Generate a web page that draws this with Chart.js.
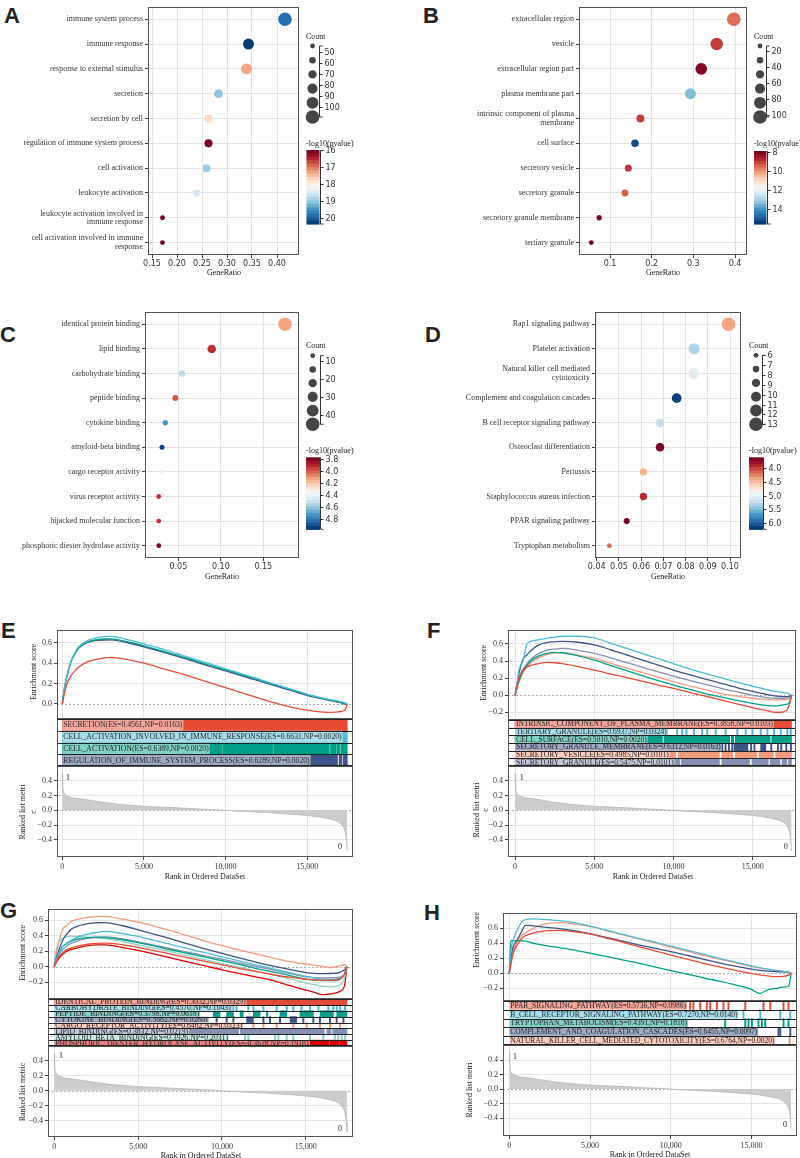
<!DOCTYPE html>
<html lang="en">
<head>
<meta charset="UTF-8">
<title>GO / KEGG dot plots and GSEA plots</title>
<script src="https://cdn.jsdelivr.net/npm/chart.js"></script>
<style>
  body { margin: 0; background: #fff; }
  #fig { position: relative; width: 800px; height: 1158px; overflow: hidden; background: #fff; }
  #fig canvas { position: absolute; }
  .lab { position: absolute; font: bold 22px "Liberation Sans", Arial, sans-serif; color: #222; line-height: 22px; }
</style>
</head>
<body>
<div id="fig">
  <div class="lab" style="left:4px;top:5px">A</div>
  <div class="lab" style="left:423px;top:5px">B</div>
  <div class="lab" style="left:0px;top:324px">C</div>
  <div class="lab" style="left:425px;top:324px">D</div>
  <div class="lab" style="left:1px;top:620px">E</div>
  <div class="lab" style="left:427px;top:620px">F</div>
  <div class="lab" style="left:0px;top:900px">G</div>
  <div class="lab" style="left:424px;top:902px">H</div>
</div>
<script>
// ---------- dot plots (A-D) ----------
const termsA = ['immune system process', 'immune response', 'response to external stimulus', 'secretion',
  'secretion by cell', 'regulation of immune system process', 'cell activation', 'leukocyte activation',
  'leukocyte activation involved in\nimmune response', 'cell activation involved in immune\nresponse'];
const ratioA = [0.416, 0.343, 0.339, 0.283, 0.263, 0.263, 0.259, 0.239, 0.171, 0.171];
const countA = [109, 90, 89, 74, 69, 69, 68, 63, 45, 45];
const logpA = [19.83, 20.26, 17.3, 19.05, 17.74, 16.09, 18.95, 18.6, 16.05, 16.05];

const termsB = ['extracellular region', 'vesicle', 'extracellular region part', 'plasma membrane part',
  'intrinsic component of plasma\nmembrane', 'cell surface', 'secretory vesicle', 'secretory granule',
  'secretory granule membrane', 'tertiary granule'];
const ratioB = [0.397, 0.356, 0.319, 0.293, 0.173, 0.160, 0.144, 0.136, 0.074, 0.055];
const countB = [103, 92, 83, 76, 45, 41, 37, 35, 19, 14];
const logpB = [9.6, 9.07, 8.2, 13.4, 9.07, 15.2, 9.0, 9.46, 8.16, 8.0];

const termsC = ['identical protein binding', 'lipid binding', 'carbohydrate binding', 'peptide binding',
  'cytokine binding', 'amyloid-beta binding', 'cargo receptor activity', 'virus receptor activity',
  'hijacked molecular function', 'phosphoric diester hydrolase activity'];
const ratioC = [0.1755, 0.0893, 0.054, 0.0465, 0.0347, 0.0308, 0.0308, 0.027, 0.027, 0.027];
const countC = [45, 23, 14, 12, 9, 8, 8, 7, 7, 7];
const logpC = [4.13, 3.93, 4.53, 3.99, 4.73, 4.93, 4.39, 3.93, 3.93, 3.79];

const termsD = ['Rap1 signaling pathway', 'Platelet activation', 'Natural killer cell mediated\ncytotoxicity',
  'Complement and coagulation cascades', 'B cell receptor signaling pathway', 'Osteoclast differentiation',
  'Pertussis', 'Staphylococcus aureus infection', 'PPAR signaling pathway', 'Tryptophan metabolism'];
const ratioD = [0.0993, 0.0838, 0.0838, 0.076, 0.0685, 0.0685, 0.061, 0.061, 0.0535, 0.0457];
const countD = [13, 11, 11, 10, 9, 9, 8, 8, 7, 6];
const logpD = [4.39, 5.31, 5.07, 6.15, 5.23, 3.65, 4.47, 3.92, 3.65, 4.18];

const xTicksA = [0.15, 0.20, 0.25, 0.30, 0.35, 0.40];
const xTicksB = [0.1, 0.2, 0.3, 0.4];
const xTicksC = [0.05, 0.10, 0.15];
const xTicksD = [0.04, 0.05, 0.06, 0.07, 0.08, 0.09, 0.10];
const countTicksA = [50, 60, 70, 80, 90, 100];
const countTicksB = [20, 40, 60, 80, 100];
const countTicksC = [10, 20, 30, 40];
const countTicksD = [6, 7, 8, 9, 10, 11, 12, 13];
const cbTicksA = [16, 17, 18, 19, 20];
const cbTicksB = [8, 10, 12, 14];
const cbTicksC = [3.8, 4.0, 4.2, 4.4, 4.6, 4.8];
const cbTicksD = [4.0, 4.5, 5.0, 5.5, 6.0];

// ---------- GSEA (E-H) ----------
const rankGrid = [0, 100, 250, 500, 750, 1000, 1500, 2000, 2500, 3000, 4000, 5000, 6000, 7000, 8000, 9000,
  10000, 11000, 12000, 13000, 14000, 15000, 15500, 16000, 16500, 17000, 17300, 17450];
const rankTicks = [0, 5000, 10000, 15000];
const metricRank = [0, 20, 60, 120, 270, 600, 1300, 2300, 3300, 4350, 5400, 6400, 7400, 8400, 9400, 10450,
  11500, 12500, 13500, 14550, 15100, 15570, 16100, 16600, 16900, 17100, 17250, 17350, 17410, 17450];
const metricVal = [0.5, 0.34, 0.26, 0.23, 0.195, 0.17, 0.15, 0.115, 0.085, 0.065, 0.05, 0.04, 0.03, 0.018, 0.008,
  -0.008, -0.02, -0.031, -0.045, -0.062, -0.072, -0.085, -0.105, -0.13, -0.155, -0.19, -0.24, -0.31, -0.42, -0.55];
const metricTicks = [-0.4, -0.2, 0, 0.2, 0.4];

const setsE = ['SECRETION', 'CELL_ACTIVATION_INVOLVED_IN_IMMUNE_RESPONSE', 'CELL_ACTIVATION', 'REGULATION_OF_IMMUNE_SYSTEM_PROCESS'];
const esLabE = ['0.4561', '0.6631', '0.6389', '0.6289'];
const npLabE = ['0.0163', '0.0020', '0.0020', '0.0020'];
const curvesE = [
  [0, 0.08, 0.18, 0.27, 0.32, 0.36, 0.41, 0.435, 0.45, 0.456, 0.435, 0.40, 0.355, 0.31, 0.26, 0.21, 0.16, 0.11, 0.06, 0.01, -0.03, -0.06, -0.072, -0.08, -0.082, -0.075, -0.06, 0],
  [0, 0.12, 0.25, 0.40, 0.50, 0.56, 0.62, 0.645, 0.66, 0.663, 0.63, 0.59, 0.545, 0.495, 0.445, 0.395, 0.345, 0.295, 0.245, 0.195, 0.145, 0.095, 0.075, 0.055, 0.04, 0.025, 0.01, 0],
  [0, 0.12, 0.25, 0.40, 0.49, 0.55, 0.605, 0.628, 0.637, 0.639, 0.61, 0.57, 0.525, 0.478, 0.43, 0.382, 0.334, 0.286, 0.238, 0.19, 0.143, 0.093, 0.072, 0.053, 0.035, 0.02, 0.005, 0],
  [0, 0.12, 0.25, 0.40, 0.49, 0.545, 0.60, 0.62, 0.627, 0.629, 0.60, 0.56, 0.515, 0.468, 0.42, 0.372, 0.324, 0.276, 0.228, 0.18, 0.133, 0.085, 0.065, 0.047, 0.03, 0.015, 0.0, 0]
];
const hitsE = [
  [[0, 17450]],
  [[0, 16900], [17150, 17450]],
  [[0, 9800], [9850, 12880], [12940, 16350], [16420, 16750], [16800, 16980], [17050, 17450]],
  [[0, 16850], [16950, 17120], [17200, 17450]]
];

const setsF = ['INTRINSIC_COMPONENT_OF_PLASMA_MEMBRANE', 'TERTIARY_GRANULE', 'CELL_SURFACE',
  'SECRETORY_GRANULE_MEMBRANE', 'SECRETORY_VESICLE', 'SECRETORY_GRANULE'];
const esLabF = ['0.3858', '0.6937', '0.5010', '0.6312', '0.4985', '0.5475'];
const npLabF = ['0.0103', '0.0324', '0.0020', '0.0163', '0.0101', '0.0101'];
const curvesF = [
  [0, 0.1, 0.2, 0.3, 0.33, 0.35, 0.37, 0.385, 0.38, 0.37, 0.335, 0.295, 0.25, 0.21, 0.165, 0.12, 0.08, 0.035, -0.01, -0.055, -0.1, -0.145, -0.165, -0.185, -0.2, -0.19, -0.12, 0],
  [0, 0.1, 0.3, 0.4, 0.6, 0.63, 0.65, 0.665, 0.68, 0.69, 0.69, 0.67, 0.61, 0.55, 0.49, 0.43, 0.37, 0.31, 0.255, 0.205, 0.155, 0.105, 0.085, 0.06, 0.045, 0.03, 0.015, 0],
  [0, 0.07, 0.17, 0.28, 0.35, 0.40, 0.46, 0.49, 0.501, 0.497, 0.46, 0.41, 0.35, 0.29, 0.23, 0.175, 0.12, 0.07, 0.02, -0.02, -0.06, -0.095, -0.11, -0.122, -0.125, -0.11, -0.09, 0],
  [0, 0.08, 0.25, 0.42, 0.47, 0.52, 0.59, 0.615, 0.625, 0.631, 0.62, 0.59, 0.535, 0.475, 0.415, 0.355, 0.295, 0.24, 0.19, 0.14, 0.09, 0.045, 0.025, 0.005, -0.01, -0.015, -0.012, 0],
  [0, 0.06, 0.15, 0.26, 0.33, 0.38, 0.44, 0.475, 0.492, 0.4985, 0.47, 0.43, 0.375, 0.32, 0.267, 0.213, 0.16, 0.11, 0.065, 0.02, -0.01, -0.035, -0.045, -0.052, -0.055, -0.05, -0.04, 0],
  [0, 0.07, 0.18, 0.3, 0.37, 0.42, 0.49, 0.525, 0.54, 0.5475, 0.525, 0.49, 0.44, 0.385, 0.33, 0.277, 0.225, 0.175, 0.128, 0.082, 0.04, 0.0, -0.015, -0.03, -0.035, -0.035, -0.03, 0]
];
const hitsF = [
  [[0, 17450]],
  [9600, 10230, 10550, 10820, 11290, 11810, 12130, 12660, 13290, 14030, 14560, 14980, 15510, 15930, 16350, 16770, 17190, 17400],
  [[0, 9300], [9400, 13550], [13650, 13800], [13900, 16100], [16200, 17450]],
  [13080, 13290, 13500, 13710, [13820, 14700], 14900, 15110, [15500, 15830], 16170, 16590, 16800, 17120, 17410],
  [[0, 10150], [10300, 12900], [13050, 13750], [13900, 15250], [15400, 16300], [16450, 17450]],
  [[0, 10400], [10500, 12900], [13050, 14800], [14950, 15980], [16100, 16720], [16850, 17150], [17250, 17450]]
];

const setsG = ['IDENTICAL_PROTEIN_BINDING', 'CARBOHYDRATE_BINDING', 'PEPTIDE_BINDING', 'CYTOKINE_BINDING',
  'CARGO_RECEPTOR_ACTIVITY', 'LIPID_BINDING', 'AMYLOID_BETA_BINDING', 'PHOSPHORIC_DIESTER_HYDROLASE_ACTIVITY'];
const esLabG = ['0.3032', '0.4570', '0.3798', '0.5682', '0.6462', '0.3832', '0.3926', '-0.3628'];
const npLabG = ['0.0329', '0.1043', '0.0618', '0.0280', '0.0323', '0.0219', '0.2031', '0.1918'];
const curvesG = [
  [0, 0.06, 0.12, 0.18, 0.22, 0.24, 0.27, 0.29, 0.3, 0.303, 0.285, 0.25, 0.205, 0.16, 0.115, 0.07, 0.025, -0.02, -0.06, -0.1, -0.135, -0.16, -0.168, -0.175, -0.175, -0.16, -0.1, 0],
  [0, 0.08, 0.16, 0.26, 0.3, 0.34, 0.39, 0.42, 0.44, 0.455, 0.43, 0.39, 0.335, 0.285, 0.23, 0.18, 0.128, 0.075, 0.025, -0.025, -0.075, -0.125, -0.145, -0.16, -0.165, -0.15, -0.09, 0],
  [0, 0.08, 0.17, 0.26, 0.3, 0.33, 0.36, 0.375, 0.38, 0.375, 0.35, 0.31, 0.265, 0.215, 0.17, 0.122, 0.077, 0.03, -0.02, -0.065, -0.11, -0.16, -0.172, -0.18, -0.18, -0.165, -0.1, 0],
  [0, 0.1, 0.2, 0.34, 0.42, 0.48, 0.53, 0.555, 0.565, 0.568, 0.53, 0.475, 0.415, 0.355, 0.29, 0.23, 0.17, 0.115, 0.06, 0.01, -0.035, -0.075, -0.085, -0.088, -0.087, -0.075, -0.04, 0],
  [0, 0.15, 0.3, 0.48, 0.53, 0.58, 0.615, 0.635, 0.645, 0.646, 0.615, 0.575, 0.52, 0.46, 0.395, 0.33, 0.27, 0.215, 0.165, 0.115, 0.07, 0.035, 0.02, 0.005, -0.01, 0.01, 0.025, 0],
  [0, 0.07, 0.14, 0.22, 0.27, 0.3, 0.34, 0.365, 0.377, 0.383, 0.36, 0.32, 0.275, 0.23, 0.185, 0.14, 0.097, 0.05, 0.005, -0.04, -0.085, -0.13, -0.14, -0.145, -0.145, -0.135, -0.09, 0],
  [0, 0.2, 0.3, 0.37, 0.385, 0.392, 0.39, 0.38, 0.37, 0.36, 0.325, 0.28, 0.235, 0.19, 0.14, 0.09, 0.043, -0.005, -0.055, -0.1, -0.155, -0.21, -0.23, -0.25, -0.258, -0.24, -0.15, 0],
  [0, 0.05, 0.1, 0.16, 0.2, 0.22, 0.25, 0.27, 0.28, 0.28, 0.25, 0.21, 0.16, 0.11, 0.06, 0.01, -0.04, -0.085, -0.13, -0.175, -0.24, -0.3, -0.33, -0.36, -0.35, -0.32, -0.25, 0]
];
const hitsG = [
  [[0, 17450]],
  [10680, 10870, 11570, 11870, 12470, 13260, 13860, 14250, 14750, 15250, 15750, 16340, 16640, 16840, 17040, 17340],
  [[9480, 9880], [10280, 10680], [11080, 11270], [11870, 12270], 12690, [13460, 13860], [14650, 15450], [15850, 16640], [16840, 17450]],
  [9680, 10280, 10680, [11470, 11870], 12470, 12860, 13460, [14060, 14450], 14850, 15450, 15840, 16440, 16840, 17240],
  [11870, 12470, 13260, 14250, 15050, 15840, 16440, 17040],
  [[0, 11000], [11100, 16100], [16250, 16500], [16600, 17450]],
  [11370, 11570, 13160, 13360, 13860, 14250, 15250, 16040, 16740, 16940, 17140, 17340],
  [[15250, 16400], [16460, 17000], [17050, 17450]]
];

const setsH = ['PPAR_SIGNALING_PATHWAY', 'B_CELL_RECEPTOR_SIGNALING_PATHWAY', 'TRYPTOPHAN_METABOLISM',
  'COMPLEMENT_AND_COAGULATION_CASCADES', 'NATURAL_KILLER_CELL_MEDIATED_CYTOTOXICITY'];
const esLabH = ['0.5736', '0.7270', '0.4391', '0.6455', '0.6764'];
const npLabH = ['0.0986', '0.0140', '0.1818', '0.0097', '0.0020'];
const curvesH = [
  [0, 0.12, 0.27, 0.38, 0.46, 0.5, 0.54, 0.56, 0.57, 0.5736, 0.555, 0.525, 0.47, 0.415, 0.355, 0.3, 0.244, 0.19, 0.135, 0.085, 0.04, -0.005, -0.02, -0.035, -0.044, -0.04, -0.025, 0],
  [0, 0.3, 0.45, 0.58, 0.68, 0.715, 0.727, 0.72, 0.712, 0.705, 0.675, 0.63, 0.575, 0.52, 0.465, 0.415, 0.364, 0.31, 0.255, 0.2, 0.15, 0.098, 0.075, 0.055, 0.04, 0.025, 0.012, 0],
  [0, 0.436, 0.436, 0.435, 0.432, 0.43, 0.40, 0.38, 0.36, 0.345, 0.31, 0.27, 0.225, 0.18, 0.135, 0.085, 0.035, -0.01, -0.06, -0.105, -0.155, -0.215, -0.27, -0.22, -0.2, -0.185, -0.17, 0],
  [0, 0.2, 0.36, 0.45, 0.55, 0.64, 0.632, 0.62, 0.61, 0.6, 0.57, 0.53, 0.48, 0.43, 0.38, 0.335, 0.29, 0.24, 0.19, 0.14, 0.095, 0.055, 0.04, 0.028, 0.022, 0.02, 0.015, 0],
  [0, 0.15, 0.3, 0.42, 0.5, 0.54, 0.6, 0.645, 0.668, 0.676, 0.66, 0.625, 0.57, 0.515, 0.46, 0.405, 0.35, 0.295, 0.24, 0.19, 0.14, 0.09, 0.07, 0.052, 0.04, 0.025, 0.012, 0]
];
const hitsH = [
  [11200, 11400, 11820, 12230, 12440, 12850, 13260, 13570, 14610, 15740, 16160, 16980, 17290],
  [14500, 15540, 16780, 17400],
  [13370, 14610, 14810, 15020, 15430, 15640, 15850, 16980, 17290],
  [16670, 16780, 17400],
  [17360]
];

// ---------- helpers ----------
const SERIF = '"Liberation Serif", "Times New Roman", serif';
const SANS = '"DejaVu Sans", sans-serif';
const GRID = '#e4e4e4';
const TICKC = '#444';
const npg = ['#E64B35', '#4DBBD5', '#00A087', '#3C5488', '#F39B7F', '#8491B4', '#91D1C2', '#DC0000'];
const RDBU = ['#67001f', '#b2182b', '#d6604d', '#f4a582', '#fddbc7', '#f7f7f7', '#d1e5f0', '#92c5de', '#4393c3', '#2166ac', '#053061'];
const fig = document.getElementById('fig');

function hexRgb(h) { const n = parseInt(h.slice(1), 16); return [n >> 16 & 255, n >> 8 & 255, n & 255]; }
function light(h) { return 'rgb(' + hexRgb(h).map(v => Math.round(v + (255 - v) * 0.5)).join(',') + ')'; }
function rdbu(t) {
  t = Math.max(0, Math.min(1, t)) * (RDBU.length - 1);
  const i = Math.min(Math.floor(t), RDBU.length - 2), f = t - i;
  const a = hexRgb(RDBU[i]), b = hexRgb(RDBU[i + 1]);
  return 'rgb(' + a.map((v, k) => Math.round(v + (b[k] - v) * f)).join(',') + ')';
}
const fmt1 = v => (v < 0 ? '\u2212' : '') + Math.abs(v).toFixed(1);
function seg(ctx, x1, y1, x2, y2) { ctx.beginPath(); ctx.moveTo(x1, y1); ctx.lineTo(x2, y2); ctx.stroke(); }

function addCanvas(cv) {
  const c = document.createElement('canvas');
  c.width = cv.w; c.height = cv.h;
  c.style.left = cv.x + 'px'; c.style.top = cv.y + 'px';
  c.style.width = cv.w + 'px'; c.style.height = cv.h + 'px';
  fig.appendChild(c);
  return c;
}
// fixed axis sizes so plot areas land where the figure has them
const fitW = w => s => { s.width = w; s.paddingTop = s.paddingBottom = s.paddingLeft = s.paddingRight = 0; };
const fitH = h => s => { s.height = h; s.paddingTop = s.paddingBottom = s.paddingLeft = s.paddingRight = 0; };

function base(cv, a) {
  return {
    responsive: false, animation: false, events: [], devicePixelRatio: 1,
    layout: { padding: { left: 0, top: a.t - cv.y, right: cv.x + cv.w - a.r, bottom: 0 } },
    plugins: { legend: { display: false }, tooltip: { enabled: false } }
  };
}

// free text in page coordinates
function notes(cv, items) {
  return { id: 'notes', afterDraw(chart) {
    const ctx = chart.ctx;
    items.forEach(it => {
      ctx.save();
      ctx.font = it.font || `8px ${SERIF}`;
      ctx.fillStyle = '#222';
      ctx.textAlign = it.align || 'center';
      ctx.textBaseline = 'middle';
      ctx.translate(it.x - cv.x, it.y - cv.y);
      if (it.rot) ctx.rotate(-Math.PI / 2);
      ctx.fillText(it.t, 0, 0);
      ctx.restore();
    });
  }};
}
const framePlugin = color => ({ id: 'frame', afterDatasetsDraw(chart) {
  const a = chart.chartArea, ctx = chart.ctx;
  ctx.save(); ctx.strokeStyle = color; ctx.lineWidth = 1;
  ctx.strokeRect(Math.round(a.left) + 0.5, Math.round(a.top) + 0.5, Math.round(a.right - a.left) - 1, Math.round(a.bottom - a.top) - 1);
  ctx.restore();
}});
const zeroLine = { id: 'zero', beforeDatasetsDraw(chart) {
  const a = chart.chartArea, ctx = chart.ctx, y = Math.round(chart.scales.y.getPixelForValue(0)) + 0.5;
  ctx.save(); ctx.strokeStyle = '#999'; ctx.lineWidth = 0.8; ctx.setLineDash([2, 2]);
  seg(ctx, a.left, y, a.right, y); ctx.restore();
}};

// size + colour legends of a dot plot
function dotLegend(o, rad) {
  return { id: 'dotLegend', afterDraw(chart) {
    const ctx = chart.ctx, ox = o.cv.x, oy = o.cv.y, L = o.leg, C = o.cb;
    ctx.save();
    ctx.textBaseline = 'middle'; ctx.textAlign = 'left';
    ctx.fillStyle = '#222'; ctx.font = `8px ${SERIF}`;
    ctx.fillText('Count', L.tx - ox, L.ty - oy);
    const yOf = n => L.y0 + (n - o.cLo) / (o.cHi - o.cLo) * (L.y1 - L.y0) - oy;
    ctx.fillStyle = '#454545';
    for (let k = 0; k < 6; k++) {
      const n = o.cLo + k * (o.cHi - o.cLo) / 5;
      ctx.beginPath(); ctx.arc(L.cx - ox, yOf(n), rad(n), 0, 2 * Math.PI); ctx.fill();
    }
    const bx = Math.round(L.bx - ox) + 0.5;
    ctx.strokeStyle = '#333'; ctx.lineWidth = 1;
    seg(ctx, bx, L.y0 - oy, bx, L.y1 - oy);
    seg(ctx, bx, L.y0 - oy, bx + 3, L.y0 - oy);
    seg(ctx, bx, L.y1 - oy, bx + 3, L.y1 - oy);
    ctx.font = `8px ${SANS}`; ctx.fillStyle = '#333';
    o.cTicks.forEach(v => {
      const y = Math.round(yOf(v)) + 0.5;
      seg(ctx, bx, y, bx + 3, y);
      ctx.fillText(String(v), bx + 5, y);
    });
    // colour bar
    ctx.font = `8px ${SERIF}`; ctx.fillStyle = '#222';
    ctx.fillText('-log10(pvalue)', C.tx - ox, C.ty - oy);
    const N = 22, hh = (C.y1 - C.y0) / N;
    for (let k = 0; k < N; k++) {
      ctx.fillStyle = rdbu((k + 0.5) / N);
      ctx.fillRect(C.x - ox, C.y0 - oy + k * hh, C.w, hh + 0.6);
    }
    const rx = Math.round(C.x + C.w - ox) + 0.5;
    ctx.strokeStyle = '#333';
    seg(ctx, rx, C.y0 - oy, rx, C.y1 - oy);
    seg(ctx, rx, C.y1 - oy, rx + 3, C.y1 - oy);
    ctx.font = `8px ${SANS}`; ctx.fillStyle = '#333';
    o.vTicks.forEach(v => {
      const y = Math.round(C.y0 + (v - o.vTop) / (o.vBot - o.vTop) * (C.y1 - C.y0) - oy) + 0.5;
      seg(ctx, rx, y, rx + 3, y);
      ctx.fillText(v.toFixed(o.vDec), rx + 5, y);
    });
    ctx.restore();
  }};
}

function dotPlot(o) {
  const cv = o.cv, a = o.area;
  const rad = n => 2.4 + 4.4 * (n - o.cLo) / (o.cHi - o.cLo);
  const col = v => rdbu((v - o.vTop) / (o.vBot - o.vTop));
  const opts = base(cv, a);
  opts.scales = {
    x: { type: 'linear', min: o.xMin, max: o.xMax, afterFit: fitH(cv.y + cv.h - a.b),
      afterBuildTicks: s => { s.ticks = o.xTicks.map(v => ({ value: v })); },
      ticks: { font: { family: SANS, size: 8 }, color: '#333', padding: 1, maxRotation: 0, autoSkip: false, callback: v => v.toFixed(o.dec) },
      grid: { color: GRID, tickColor: TICKC, tickLength: 3 }, border: { display: false } },
    y: { type: 'category', labels: o.terms, offset: true, afterFit: fitW(a.l - cv.x),
      ticks: { font: { family: SERIF, size: 8, lineHeight: 1.05 }, color: '#333', padding: 2, autoSkip: false,
        callback: (v, i) => o.terms[i].split('\n') },
      grid: { color: GRID, tickColor: TICKC, tickLength: 3 }, border: { display: false } }
  };
  new Chart(addCanvas(cv), {
    type: 'bubble',
    data: { datasets: [{
      data: o.terms.map((t, i) => ({ x: o.ratio[i], y: t, r: rad(o.count[i]) })),
      backgroundColor: o.logp.map(col), borderWidth: 0
    }] },
    options: opts,
    plugins: [framePlugin('#555'), dotLegend(o, rad), notes(cv, [{ t: 'GeneRatio', x: o.titleX, y: o.titleY }])]
  });
}

function gsea(p) {
  const cvx = p.cvx, w = p.cvw, n = p.sets.length, cols = npg.slice(0, n);
  const yTicks = { font: { family: SERIF, size: 8 }, color: '#333', padding: 2, autoSkip: false, callback: fmt1 };
  const yGrid = { color: c => (c.tick && c.tick.value === 0) ? 'rgba(0,0,0,0)' : GRID, tickColor: TICKC, tickLength: 3 };
  const xBase = { type: 'linear', min: p.xMin, max: p.xMax, afterBuildTicks: s => { s.ticks = rankTicks.map(v => ({ value: v })); } };

  // running enrichment score
  const cv1 = { x: cvx, y: p.es.t - 8, w, h: p.es.b - p.es.t + 8 };
  const a1 = { l: p.l, r: p.r, t: p.es.t, b: p.es.b };
  const o1 = base(cv1, a1);
  o1.scales = {
    x: Object.assign({}, xBase, { afterFit: fitH(0), ticks: { display: false }, grid: { color: GRID, drawTicks: false }, border: { display: false } }),
    y: { min: p.es.yMin, max: p.es.yMax, afterFit: fitW(p.l - cvx),
      afterBuildTicks: s => { s.ticks = p.es.ticks.map(v => ({ value: v })); },
      ticks: yTicks, grid: yGrid, border: { display: false } }
  };
  new Chart(addCanvas(cv1), {
    type: 'line',
    data: { datasets: p.curves.map((ys, k) => ({
      data: ys.map((v, i) => ({ x: rankGrid[i], y: v })),
      borderColor: cols[k], borderWidth: 1.3, pointRadius: 0, fill: false, cubicInterpolationMode: 'monotone'
    })) },
    options: o1,
    plugins: [zeroLine, framePlugin('#555'), notes(cv1, [{ t: 'Enrichment score', x: p.esTitle[0], y: p.esTitle[1], rot: true }])]
  });

  // gene-set hit strips
  const cv2 = { x: cvx, y: p.st.t, w, h: p.st.b - p.st.t };
  const a2 = { l: p.l, r: p.r, t: p.st.t, b: p.st.b };
  const o2 = base(cv2, a2);
  o2.indexAxis = 'y';
  o2.scales = {
    x: Object.assign({}, xBase, { afterFit: fitH(0), ticks: { display: false }, grid: { display: false }, border: { display: false } }),
    y: { type: 'category', labels: p.sets, offset: true, afterFit: fitW(p.l - cvx), ticks: { display: false }, grid: { display: false }, border: { display: false } }
  };
  const stripDeco = { id: 'strip', afterDatasetsDraw(chart) {
    const ctx = chart.ctx, a = chart.chartArea, x0 = chart.scales.x.getPixelForValue(0);
    const rh = (a.bottom - a.top) / n;
    ctx.save();
    ctx.font = `${p.st.font}px ${SERIF}`;
    p.sets.forEach((s, k) => {
      const txt = `${s}(ES=${p.esLab[k]},NP=${p.npLab[k]})`;
      const y0 = a.top + k * rh, tw = ctx.measureText(txt).width;
      ctx.fillStyle = light(cols[k]);
      ctx.fillRect(x0, y0, tw + 2, rh);
      ctx.save();
      ctx.beginPath(); ctx.rect(a.left, y0 + 0.5, a.right - a.left, rh - 0.5); ctx.clip();
      ctx.fillStyle = '#262626'; ctx.textAlign = 'left'; ctx.textBaseline = 'middle';
      ctx.fillText(txt, x0 + 1, y0 + rh / 2 + 0.5);
      ctx.restore();
    });
    ctx.strokeStyle = '#222'; ctx.lineWidth = 1;
    for (let k = 0; k <= n; k++) {
      const y = Math.min(Math.round(a.top + k * rh) + 0.5, a.bottom - 0.5);
      seg(ctx, a.left, y, a.right, y);
    }
    ctx.strokeStyle = '#555';
    seg(ctx, Math.round(a.left) + 0.5, a.top, Math.round(a.left) + 0.5, a.bottom);
    seg(ctx, Math.round(a.right) - 0.5, a.top, Math.round(a.right) - 0.5, a.bottom);
    ctx.restore();
  }};
  new Chart(addCanvas(cv2), {
    type: 'bar',
    data: { labels: p.sets, datasets: p.hits.map((hs, k) => ({
      data: hs.map(h => ({ x: Array.isArray(h) ? h : [h - 40, h + 40], y: p.sets[k] })),
      backgroundColor: cols[k], borderWidth: 0, grouped: false, barPercentage: 1, categoryPercentage: 1
    })) },
    options: o2,
    plugins: [stripDeco]
  });

  // ranked list metric
  const cv3 = { x: cvx, y: p.me.t - 2, w, h: p.cvBottom - p.me.t + 2 };
  const a3 = { l: p.l, r: p.r, t: p.me.t, b: p.me.b };
  const o3 = base(cv3, a3);
  o3.scales = {
    x: Object.assign({}, xBase, { afterFit: fitH(p.cvBottom - p.me.b),
      ticks: { font: { family: SERIF, size: 8 }, color: '#333', padding: 2, maxRotation: 0, autoSkip: false, callback: v => v.toLocaleString('en-US') },
      grid: { color: GRID, tickColor: TICKC, tickLength: 3 }, border: { display: false } }),
    y: { min: p.me.yMin, max: p.me.yMax, afterFit: fitW(p.l - cvx),
      afterBuildTicks: s => { s.ticks = metricTicks.map(v => ({ value: v })); },
      ticks: yTicks, grid: yGrid, border: { display: false } }
  };
  const metNotes = p.metTitle.map(m => ({ t: m[0], x: m[1], y: m[2], rot: true }));
  metNotes.push({ t: 'Rank in Ordered DataSet', x: p.rankTitle[0], y: p.rankTitle[1] });
  metNotes.push({ t: '1', x: p.one[0], y: p.one[1] });
  metNotes.push({ t: '0', x: p.zero[0], y: p.zero[1] });
  new Chart(addCanvas(cv3), {
    type: 'line',
    data: { datasets: [{
      data: metricRank.map((r, i) => ({ x: r, y: metricVal[i] })),
      borderColor: '#b8b8b8', borderWidth: 0.8, backgroundColor: '#cccccc', fill: 'origin', pointRadius: 0, tension: 0
    }] },
    options: o3,
    plugins: [zeroLine, framePlugin('#555'), notes(cv3, metNotes)]
  });
}

// ---------- build panels ----------
dotPlot({ cv: { x: 0, y: 0, w: 400, h: 285 }, area: { l: 148, t: 0, r: 299, b: 255 },
  terms: termsA, ratio: ratioA, count: countA, logp: logpA,
  xMin: 0.142, xMax: 0.444, xTicks: xTicksA, dec: 2, titleX: 224, titleY: 273,
  cLo: 44.5, cHi: 109, cTicks: countTicksA, vTop: 16.0, vBot: 20.35, vTicks: cbTicksA, vDec: 0,
  leg: { tx: 306, ty: 37, cx: 312.5, bx: 319, y0: 46, y1: 117 },
  cb: { tx: 306, ty: 144, x: 306.5, w: 13, y0: 150, y1: 224 } });

dotPlot({ cv: { x: 400, y: 0, w: 400, h: 285 }, area: { l: 579, t: 0, r: 747, b: 255 },
  terms: termsB, ratio: ratioB, count: countB, logp: logpB,
  xMin: 0.0256, xMax: 0.4288, xTicks: xTicksB, dec: 1, titleX: 663, titleY: 273,
  cLo: 14, cHi: 103, cTicks: countTicksB, vTop: 7.93, vBot: 15.56, vTicks: cbTicksB, vDec: 0,
  leg: { tx: 754, ty: 37, cx: 760, bx: 766, y0: 46, y1: 117 },
  cb: { tx: 754, ty: 144, x: 754, w: 12.5, y0: 151, y1: 224 } });

dotPlot({ cv: { x: 0, y: 300, w: 400, h: 285 }, area: { l: 145, t: 312, r: 299, b: 558 },
  terms: termsC, ratio: ratioC, count: countC, logp: logpC,
  xMin: 0.0108, xMax: 0.192, xTicks: xTicksC, dec: 2, titleX: 222, titleY: 577,
  cLo: 7, cHi: 45, cTicks: countTicksC, vTop: 3.77, vBot: 4.97, vTicks: cbTicksC, vDec: 1,
  leg: { tx: 306, ty: 346, cx: 312.7, bx: 320, y0: 355.7, y1: 424.3 },
  cb: { tx: 306, ty: 450.5, x: 306, w: 14, y0: 457.3, y1: 529.3 } });

dotPlot({ cv: { x: 400, y: 300, w: 400, h: 285 }, area: { l: 595, t: 312, r: 741, b: 558 },
  terms: termsD, ratio: ratioD, count: countD, logp: logpD,
  xMin: 0.03923, xMax: 0.10495, xTicks: xTicksD, dec: 2, titleX: 668, titleY: 577,
  cLo: 6, cHi: 13, cTicks: countTicksD, vTop: 3.6, vBot: 6.23, vTicks: cbTicksD, vDec: 1,
  leg: { tx: 749, ty: 346, cx: 756, bx: 761.5, y0: 355.3, y1: 424.3 },
  cb: { tx: 749, ty: 450.5, x: 749, w: 14, y0: 457.3, y1: 529.3 } });

gsea({ cvx: 0, cvw: 360, l: 57, r: 353, xMin: -325, xMax: 17800,
  es: { t: 630, b: 719, yMin: -0.147, yMax: 0.725, ticks: [0, 0.2, 0.4, 0.6] },
  st: { t: 719, b: 766, font: 7.7 }, me: { t: 766, b: 857, yMin: -0.631, yMax: 0.599 }, cvBottom: 884,
  sets: setsE, esLab: esLabE, npLab: npLabE, curves: curvesE, hits: hitsE,
  esTitle: [34, 672], metTitle: [['Ranked list metri', 23, 812], ['c', 33.5, 812]],
  rankTitle: [205, 877], one: [68, 778], zero: [340, 847] });

gsea({ cvx: 455, cvw: 345, l: 508, r: 796, xMin: -442, xMax: 17732,
  es: { t: 630, b: 720, yMin: -0.289, yMax: 0.763, ticks: [-0.2, 0, 0.2, 0.4, 0.6] },
  st: { t: 720, b: 766, font: 7.5 }, me: { t: 766, b: 857, yMin: -0.631, yMax: 0.599 }, cvBottom: 884,
  sets: setsF, esLab: esLabF, npLab: npLabF, curves: curvesF, hits: hitsF,
  esTitle: [484, 673], metTitle: [['Ranked list metri', 477, 810], ['c', 486, 810]],
  rankTitle: [653, 877], one: [521.7, 778], zero: [785.7, 847] });

gsea({ cvx: 0, cvw: 360, l: 48, r: 353, xMin: -376, xMax: 17812,
  es: { t: 909, b: 999, yMin: -0.415, yMax: 0.742, ticks: [-0.2, 0, 0.2, 0.4, 0.6] },
  st: { t: 999, b: 1046, font: 7.7 }, me: { t: 1046, b: 1137, yMin: -0.617, yMax: 0.596 }, cvBottom: 1158,
  sets: setsG, esLab: esLabG, npLab: npLabG, curves: curvesG, hits: hitsG,
  esTitle: [23, 953], metTitle: [['Ranked list metric', 23, 1092]],
  rankTitle: [201, 1156], one: [61, 1056], zero: [340, 1129] });

gsea({ cvx: 455, cvw: 345, l: 503, r: 797, xMin: -390, xMax: 17814,
  es: { t: 913, b: 1001, yMin: -0.369, yMax: 0.804, ticks: [-0.2, 0, 0.2, 0.4, 0.6] },
  st: { t: 1001, b: 1045, font: 7.5 }, me: { t: 1045, b: 1136, yMin: -0.648, yMax: 0.607 }, cvBottom: 1158,
  sets: setsH, esLab: esLabH, npLab: npLabH, curves: curvesH, hits: hitsH,
  esTitle: [477, 940], metTitle: [['Ranked list metri', 470, 1090], ['c', 478.5, 1090]],
  rankTitle: [650, 1155], one: [515, 1057], zero: [785, 1125] });
</script>
</body>
</html>
